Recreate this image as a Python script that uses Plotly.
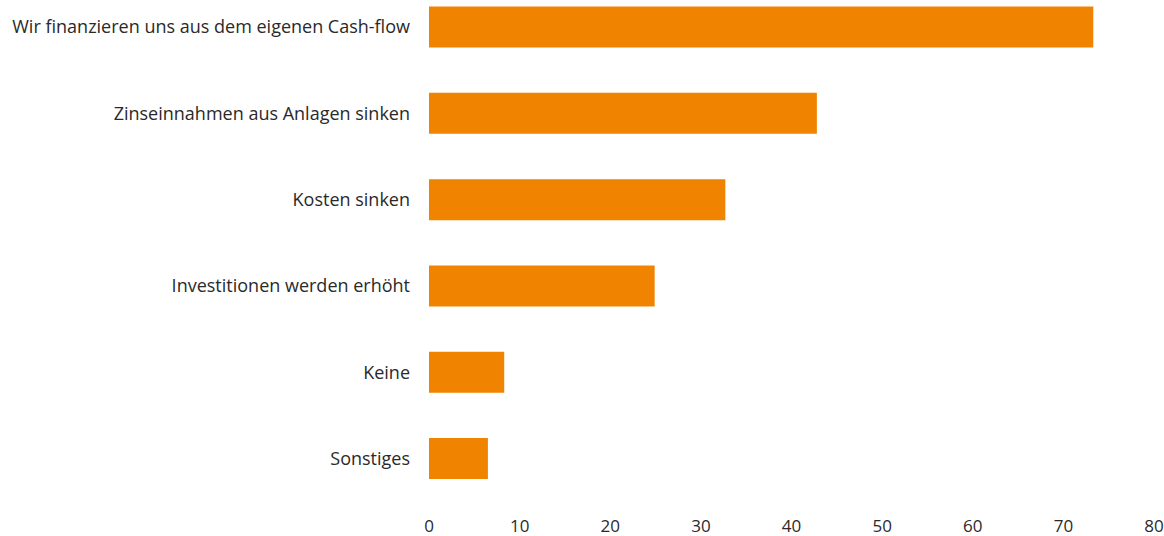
import plotly.graph_objects as go

categories = [
    "Wir finanzieren uns aus dem eigenen Cash-flow",
    "Zinseinnahmen aus Anlagen sinken",
    "Kosten sinken",
    "Investitionen werden erhöht",
    "Keine",
    "Sonstiges",
]
values = [73.3, 42.8, 32.7, 24.9, 8.3, 6.5]
x_ticks = [0, 10, 20, 30, 40, 50, 60, 70, 80]

fig = go.Figure(
    go.Bar(
        x=values,
        y=categories,
        orientation="h",
        marker=dict(color="#F08300", line=dict(width=0)),
        width=0.475,
        hoverinfo="skip",
    )
)

W, H = 1164, 536
left, right, top, bottom = 428.5, 10, 0, 36
fig.update_layout(
    width=W,
    height=H,
    margin=dict(l=left, r=right, t=top, b=bottom, pad=0),
    paper_bgcolor="white",
    plot_bgcolor="white",
    showlegend=False,
    font=dict(family="Open Sans, Noto Sans, sans-serif", size=18, color="#2a2a2a"),
    xaxis=dict(
        range=[0, 80],
        tickvals=x_ticks,
        tickfont=dict(size=17),
        showgrid=False,
        zeroline=False,
        showline=False,
        ticks="",
        ticklabelstandoff=14,
        automargin=False,
        fixedrange=True,
    ),
    yaxis=dict(
        categoryorder="array",
        categoryarray=categories,
        range=[5.48, -0.313],
        showgrid=False,
        zeroline=False,
        showline=False,
        ticks="",
        ticklabelstandoff=18,
        automargin=False,
        fixedrange=True,
    ),
)

fig.write_html(
    "out.html",
    config={"displayModeBar": False},
    post_script="document.body.style.margin='0';document.body.style.overflow='hidden';",
)
